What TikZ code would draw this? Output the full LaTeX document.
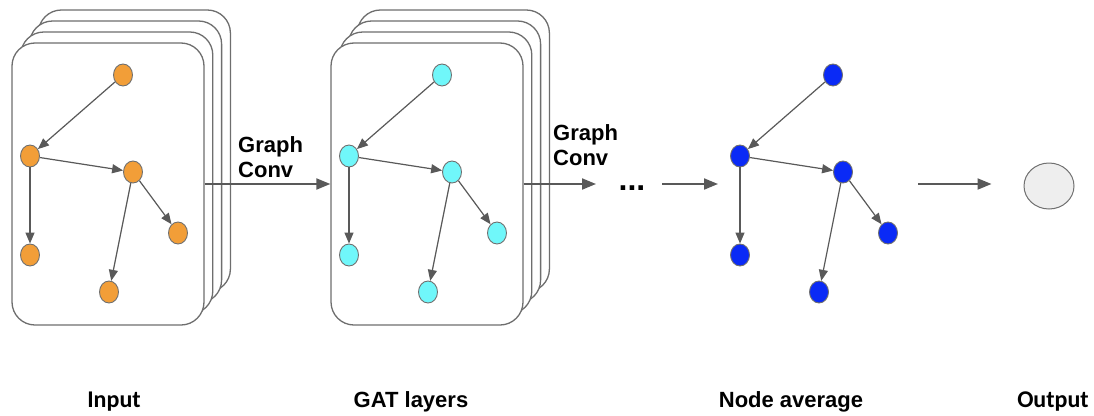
\documentclass[tikz,border=0pt]{standalone}
\usepackage{fontspec}
\setmainfont{Liberation Sans}
\newfontfamily\calfont{Carlito}
\usetikzlibrary{arrows.meta,shapes.geometric}

\definecolor{cardgray}{HTML}{6E6E6E}
\definecolor{edgegray}{HTML}{595959}
\definecolor{rimgray}{HTML}{707070}
\definecolor{vorange}{HTML}{F29E38}
\definecolor{vcyan}{HTML}{70F7FA}
\definecolor{vblue}{HTML}{0A2AF6}
\definecolor{outfill}{HTML}{EEEEEE}

\tikzset{
  card/.style={draw=cardgray, line width=1.3pt, fill=white, rounded corners=23pt,
               minimum width=192pt, minimum height=282pt, inner sep=0pt},
  vert/.style={ellipse, draw=rimgray, line width=0.9pt, minimum width=19pt,
               minimum height=22pt, inner sep=0pt},
  link/.style={draw=edgegray, line width=1.2pt, -{Triangle[length=11pt,width=9pt]}},
  flow/.style={draw=edgegray, line width=2pt, -{Triangle[length=14pt,width=11pt]}},
  caption/.style={font=\fontsize{22}{25}\selectfont\bfseries, inner sep=0pt},
  incaption/.style={font=\calfont\fontsize{24}{28}\selectfont\bfseries, inner sep=0pt},
}

% a stack of four cards; the front one is named <prefix>front
\newcommand\cardstack[3]{%
  \foreach \k in {3,2,1}{
    \node[card] (#1back\k) at ({#2+8.8*\k},{#3-11*\k}) {};
  }
  \node[card] (#1front) at (#2,#3) {};
}

% the small directed graph, shifted right by #2
\newcommand\smallgraph[3]{%
  \begin{scope}[xshift=#2pt]
    \node[vert, fill=#3] (#1t)  at (123,75)  {};
    \node[vert, fill=#3] (#1l)  at (30,156)  {};
    \node[vert, fill=#3] (#1m)  at (133,172) {};
    \node[vert, fill=#3] (#1r)  at (178,233) {};
    \node[vert, fill=#3] (#1bl) at (30,255)  {};
    \node[vert, fill=#3] (#1b)  at (109,292) {};
    \draw[link] (#1t) -- (#1l);
    \draw[link] (#1l) -- (#1m);
    \draw[link] (#1l) -- (#1bl);
    \draw[link] (#1m) -- (#1r);
    \draw[link] (#1m) -- (#1b);
  \end{scope}
}

\begin{document}
\begin{tikzpicture}[x=1pt, y=-1pt]
  \useasboundingbox (0,0) rectangle (1094,415);

  % input stack
  \cardstack{in}{108}{184}
  \smallgraph{in}{0}{vorange}

  % GAT layer stack
  \cardstack{gat}{427}{184}
  \smallgraph{gat}{319}{vcyan}

  % pooled graph
  \smallgraph{avg}{710}{vblue}

  % output node
  \node[ellipse, draw=rimgray, line width=1pt, fill=outfill,
        minimum width=50pt, minimum height=46pt, inner sep=0pt] (out) at (1049,186) {};

  % connectors between stages
  \draw[flow] (infront.east) -- (gatfront.west);
  \coordinate (convend) at (596,184);
  \draw[flow] (gatfront.east) -- (convend);
  \node[font=\fontsize{32}{32}\selectfont\bfseries, inner sep=0pt, anchor=base] (dots) at (632,190) {...};
  \coordinate (avgin) at (662,184);
  \coordinate (avgtip) at (718,184);
  \draw[flow] (avgin) -- (avgtip);
  \coordinate (poolout) at (918,184);
  \draw[flow, shorten >=32pt] (poolout) -- (poolout -| out.west);

  % connector labels (base = baseline of the last line)
  \node[caption, align=left, anchor=base west] (conv1) at (238,177) {Graph\\Conv};
  \node[caption, align=left, anchor=base west] (conv2) at (553,165) {Graph\\Conv};

  % stage captions
  \node[incaption, anchor=base] (capin)  at (114,407)  {Input};
  \node[caption,   anchor=base] (capgat) at (411,407)  {GAT layers};
  \node[caption,   anchor=base] (capavg) at (791,407)  {Node average};
  \node[incaption, anchor=base] (capout) at (1053,407) {Output};
\end{tikzpicture}
\end{document}
